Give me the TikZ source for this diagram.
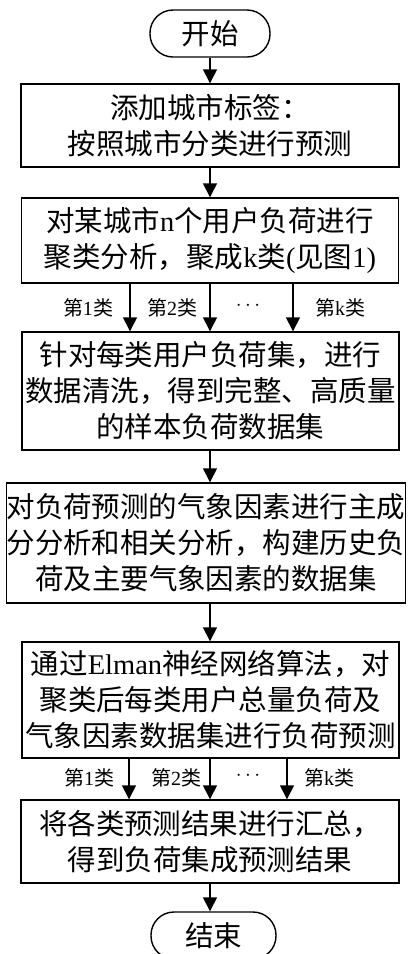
\documentclass[tikz,border=0pt]{standalone}
\usepackage{fontspec}
\setmainfont{Liberation Serif}
\newfontfamily\cjk{Noto Sans CJK SC}
\usetikzlibrary{arrows.meta}
\newcommand\C[1]{{\cjk #1}}
\begin{document}
\begin{tikzpicture}[x=1pt,y=-1pt,
  box/.style={draw,line width=1.4pt,align=center,inner sep=0pt,
    font=\fontsize{28.5}{36}\selectfont},
  term/.style={draw,line width=1.4pt,rounded corners=23pt,minimum width=120pt,
    minimum height=47pt,inner sep=0pt,font=\fontsize{28.5}{36}\selectfont},
  arr/.style={line width=1.4pt,-{Triangle[width=14pt,length=14pt]}},
  lab/.style={inner sep=0pt,font=\fontsize{20}{24}\selectfont}]
\useasboundingbox (0,0) rectangle (410,954);
\node[term] (start) at (210,33.5) {\C{开始}};
\node[box,minimum width=378pt,minimum height=83pt] (b1) at (210,125.5)
  {\C{添加城市标签：}\\\C{按照城市分类进行预测}};
\node[box,minimum width=377pt,minimum height=85pt] (b2) at (210,240.5)
  {\C{对某城市}n\C{个用户负荷进行}\\\C{聚类分析，聚成}k\C{类}(\C{见图}1)};
\node[box,minimum width=377pt,minimum height=118pt] (b3) at (210.5,391)
  {\C{针对每类用户负荷集，进行}\\\C{数据清洗，得到完整、高质量}\\\C{的样本负荷数据集}};
\node[box,minimum width=398pt,minimum height=120pt] (b4) at (206,543)
  {\C{对负荷预测的气象因素进行主成}\\\C{分分析和相关分析，构建历史负}\\\C{荷及主要气象因素的数据集}};
\node[box,minimum width=377pt,minimum height=116pt] (b5) at (210.5,700)
  {\C{通过}Elman\C{神经网络算法，对}\\\C{聚类后每类用户总量负荷及}\\\C{气象因素数据集进行负荷预测}};
\node[box,minimum width=378pt,minimum height=83pt] (b6) at (210,841.5)
  {\C{将各类预测结果进行汇总，}\\\C{得到负荷集成预测结果}};
\node[term,minimum width=125pt] (end) at (213.5,935.5) {\C{结束}};
\coordinate (m) at (210,0);
\coordinate (t1) at (130,0);
\coordinate (t2) at (210,0);
\coordinate (t3) at (293,0);
\coordinate (u1) at (129,0);
\coordinate (u2) at (210,0);
\coordinate (u3) at (287,0);
\draw[arr] (start.south -| m) -- (b1.north -| m);
\draw[arr] (b1.south -| m) -- (b2.north -| m);
\draw[arr] (b2.south -| t1) -- (b3.north -| t1);
\draw[arr] (b2.south -| t2) -- (b3.north -| t2);
\draw[arr] (b2.south -| t3) -- (b3.north -| t3);
\draw[arr] (b3.south -| m) -- (b4.north -| m);
\draw[arr] (b4.south -| m) -- (b5.north -| m);
\draw[arr] (b5.south -| u1) -- (b6.north -| u1);
\draw[arr] (b5.south -| u2) -- (b6.north -| u2);
\draw[arr] (b5.south -| u3) -- (b6.north -| u3);
\draw[arr] (b6.south -| m) -- (end.north -| m);
\node[lab] (l1) at (88,308) {\C{第}1\C{类}};
\node[lab] (l2) at (172,308) {\C{第}2\C{类}};
\node[lab] (l3) at (248,306) {$\cdots$};
\node[lab] (l4) at (340,308) {\C{第}k\C{类}};
\node[lab] (k1) at (89,778) {\C{第}1\C{类}};
\node[lab] (k2) at (176,778) {\C{第}2\C{类}};
\node[lab] (k3) at (248,776) {$\cdots$};
\node[lab] (k4) at (329,778) {\C{第}k\C{类}};
\end{tikzpicture}
\end{document}
